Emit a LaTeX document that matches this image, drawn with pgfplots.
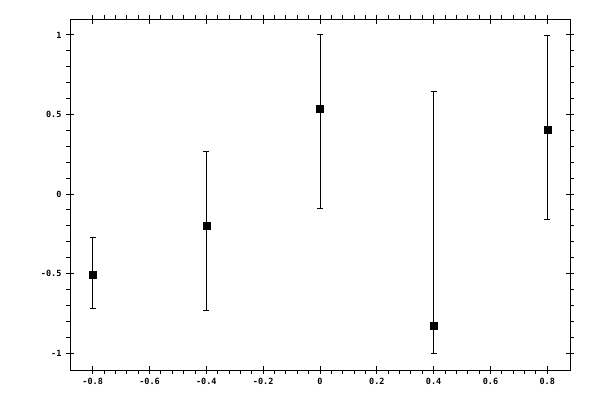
\documentclass[border=0pt]{standalone}
\usepackage{pgfplots}
\pgfplotsset{compat=1.18}
\usepackage{pgfplotstable}
\usepackage{fontspec}
\setmainfont{DejaVu Sans Mono}

% point, upper error, lower error
\pgfplotstableread{
x     y       ep     em
-0.8  -0.505  0.233  0.214
-0.4  -0.197  0.466  0.534
0.0   0.533   0.467  0.627
0.4   -0.826  1.472  0.174
0.8   0.407   0.587  0.566
}\pts

\begin{document}
\begin{tikzpicture}
\useasboundingbox (-70pt,-30pt) rectangle (530pt,370pt);
\pgfplotsset{
  frame/.style={
    at={(0,0)}, anchor=south west, scale only axis,
    width=500pt, height=350.5pt,
    xmin=-0.88, xmax=0.88, ymin=-1.107, ymax=1.097,
    xtick={-0.8,-0.6,...,0.81}, ytick={-1,-0.5,...,1.01},
    minor x tick num=4, minor y tick num=4,
  }
}
% minor ticks, pointing out
\begin{axis}[frame, axis line style={draw=none},
  tick align=outside, major tick length=0pt, minor tick length=4pt,
  xticklabels={}, yticklabels={}, tick style={black, line width=0.9pt}]
\addplot[draw=none] coordinates {(0,0)};
\end{axis}
% frame, major ticks and the points
\begin{axis}[frame,
  axis line style={line width=0.9pt},
  tick align=center, major tick length=8pt, minor tick length=0pt,
  tick style={black, line width=0.9pt},
  ticklabel style={font=\fontsize{8.5}{9}\selectfont\bfseries},
  /pgf/number format/assume math mode=true,
  xticklabel style={yshift=-1pt}, yticklabel style={xshift=-1pt}]
\addplot[only marks, mark=square*, mark size=3.5pt, black,
  error bars/.cd, y dir=both, y explicit, error mark=-,
  error bar style={line width=0.9pt, black},
  error mark options={rotate=90, line width=0.9pt, mark size=3pt, black}]
  table[x=x, y=y, y error plus=ep, y error minus=em] {\pts};
\end{axis}
\end{tikzpicture}
\end{document}
